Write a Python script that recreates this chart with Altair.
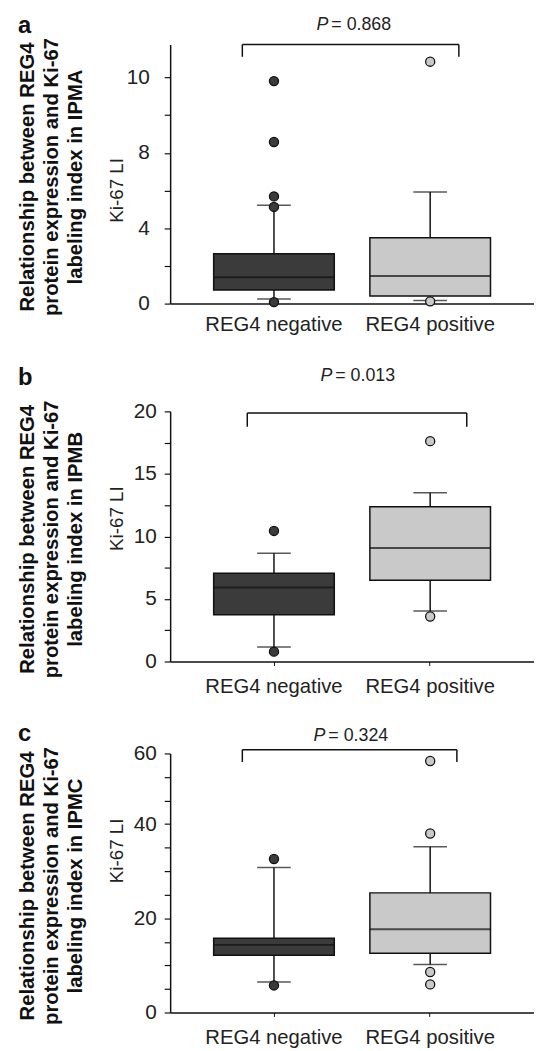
import altair as alt
import pandas as pd

categories = ["REG4 negative", "REG4 positive"]

# ---- panel a (IPMA), values in the figure's tick units ----
a_q1 = [0.72, 0.40]
a_median = [1.40, 1.46]
a_q3 = [2.64, 3.50]
a_low = [0.25, 0.17]
a_high = [5.22, 5.92]
a_out_neg = [11.81, 8.58, 5.69, 5.13, 0.08]
a_out_pos = [12.84, 0.12]
a_p = "= 0.868"
a_ticks = [0, 2, 4, 6, 8, 10, 12]
a_title = ["Relationship between REG4", "protein expression and Ki-67", "labeling index in IPMA"]

# ---- panel b (IPMB) ----
b_q1 = [3.73, 6.50]
b_median = [5.92, 9.08]
b_q3 = [7.05, 12.37]
b_low = [1.16, 4.03]
b_high = [8.66, 13.50]
b_out_neg = [10.44, 0.79]
b_out_pos = [17.62, 3.60]
b_p = "= 0.013"
b_ticks = [0, 2.5, 5, 7.5, 10, 12.5, 15, 17.5, 20]
b_title = ["Relationship between REG4", "protein expression and Ki-67", "labeling index in IPMB"]

# ---- panel c (IPMC) ----
c_q1 = [12.18, 12.60]
c_median = [14.36, 17.70]
c_q3 = [15.76, 25.40]
c_low = [6.50, 10.20]
c_high = [30.80, 35.20]
c_out_neg = [32.60, 5.75]
c_out_pos = [53.40, 38.00, 8.60, 5.97]
c_p = "= 0.324"
c_ticks = [0, 5, 10, 15, 20, 25, 30, 35, 40, 45, 50, 55]
c_title = ["Relationship between REG4", "protein expression and Ki-67", "labeling index in IPMC"]

FILLS = ["#3b3b3b", "#c9c9c9"]
PLOT_W = 368


def panel(letter, title_lines, q1, med, q3, lo, hi, out_neg, out_pos, p_label,
          ymax, height, ticks, label_expr, label_pad, x_ticks,
          p_y, p_dx, br_top, br_drop, br_left, br_right, title_y, letter_y):
    box = pd.DataFrame({"group": categories, "q1": q1, "median": med, "q3": q3,
                        "low": lo, "high": hi})
    caps = pd.DataFrame({"group": categories * 2, "v": lo + hi})
    outs = pd.DataFrame({"group": [categories[0]] * len(out_neg) + [categories[1]] * len(out_pos),
                         "v": out_neg + out_pos})
    ann = pd.DataFrame({"g1": [categories[0]], "g2": [categories[1]], "top": [br_top],
                        "drop": [br_drop], "py": [p_y], "plabel": [p_label]})

    xscale = alt.Scale(domain=categories, paddingInner=0.2278, paddingOuter=0.2785)
    xaxis = alt.Axis(labelAngle=0, labelFontSize=20.5, labelColor="#222", domainColor="#111",
                     domainWidth=1.5, ticks=x_ticks, tickSize=4, tickColor="#111",
                     labelPadding=11, grid=False)
    yscale = alt.Scale(domain=[0, ymax], nice=False, zero=False)
    yaxis = alt.Axis(values=ticks, labelExpr=label_expr, tickSize=6, tickColor="#111",
                     tickWidth=1.2, labelFontSize=21, labelColor="#222", labelPadding=label_pad,
                     domainColor="#111", domainWidth=1.5, grid=False,
                     titleFontSize=19, titleFontWeight="normal", titleColor="#222",
                     titleX=-44, titleY=title_y)

    def X(f):
        return alt.X(f"{f}:N", scale=xscale, axis=xaxis, title=None)

    def Y(f):
        return alt.Y(f"{f}:Q", scale=yscale, axis=yaxis, title="Ki-67 LI")

    fill = alt.Fill("group:N", scale=alt.Scale(domain=categories, range=FILLS), legend=None)

    whisker = alt.Chart(box).mark_rule(color="#111", strokeWidth=1.5).encode(
        x=X("group"), y=Y("low"), y2="high")
    boxes = alt.Chart(box).mark_bar(stroke="#111", strokeWidth=1.5).encode(
        x=X("group"), y=Y("q1"), y2="q3", fill=fill)
    medians = alt.Chart(box).mark_tick(color="#111", size=122, thickness=2).encode(
        x=X("group"), y=Y("median"))
    capmarks = alt.Chart(caps).mark_tick(color="#111", size=34, thickness=1.5).encode(
        x=X("group"), y=Y("v"))
    points = alt.Chart(outs).mark_circle(size=85, stroke="#111", strokeWidth=1.3, opacity=1).encode(
        x=X("group"), y=Y("v"), fill=fill)

    br_h = alt.Chart(ann).mark_rule(color="#111", strokeWidth=1.5, xOffset=br_left,
                                    x2Offset=br_right).encode(x=X("g1"), x2="g2", y=Y("top"))
    br_l = alt.Chart(ann).mark_rule(color="#111", strokeWidth=1.5, xOffset=br_left).encode(
        x=X("g1"), y=Y("top"), y2="drop")
    br_r = alt.Chart(ann).mark_rule(color="#111", strokeWidth=1.5, xOffset=br_right).encode(
        x=X("g2"), y=Y("top"), y2="drop")

    p_italic = alt.Chart(ann).mark_text(fontSize=18, fontStyle="italic", align="right",
                                        baseline="middle", dx=p_dx, color="#222").encode(
        x=X("g1"), y=Y("py"), text=alt.value("P"))
    p_value = alt.Chart(ann).mark_text(fontSize=18, align="left", baseline="middle",
                                       dx=p_dx + 3, color="#222").encode(
        x=X("g1"), y=Y("py"), text="plabel:N")

    big_title = alt.Chart(ann).mark_text(angle=270, fontSize=20.5, fontWeight="bold",
                                         lineHeight=24.5, align="center", baseline="middle",
                                         color="#111").encode(
        x=alt.value(-144), y=alt.value(height / 2 + 3), text=alt.value(title_lines))
    letter_mark = alt.Chart(ann).mark_text(fontSize=24, fontWeight="bold", align="left",
                                           baseline="alphabetic", color="#111").encode(
        x=alt.value(-154), y=alt.value(letter_y), text=alt.value(letter))

    return alt.layer(whisker, boxes, medians, capmarks, points, br_h, br_l, br_r,
                     p_italic, p_value, big_title, letter_mark).properties(
        width=PLOT_W, height=height)


pa = panel("a", a_title, a_q1, a_median, a_q3, a_low, a_high, a_out_neg, a_out_pos, a_p,
           13.75, 262, a_ticks,
           "datum.value == 12 ? '10' : (datum.value % 4 == 0 ? datum.label : '')", 15, False,
           14.78, 55, 13.75, 13.1, -32, 29, 147, -12)
pb = panel("b", b_title, b_q1, b_median, b_q3, b_low, b_high, b_out_neg, b_out_pos, b_p,
           20, 253, b_ticks,
           "datum.value % 5 == 0 ? datum.label : ''", 8, True,
           22.86, 59, 19.87, 18.77, -27, 37, 108, -27)
pc = panel("c", c_title, c_q1, c_median, c_q3, c_low, c_high, c_out_neg, c_out_pos, c_p,
           55, 262, c_ticks,
           "datum.value == 55 ? '60' : (datum.value % 20 == 0 ? datum.label : '')", 8, True,
           58.8, 52, 55.8, 53.2, -32, 27, 98, -13)

chart = alt.vconcat(alt.vconcat(pa, pb, spacing=31), pc, spacing=25).properties(
    padding={"left": 10, "top": 0, "right": 0, "bottom": 0}
).configure(font="Liberation Sans").configure_view(stroke=None)

chart.save("out.html", embed_options={"renderer": "svg", "actions": False})
